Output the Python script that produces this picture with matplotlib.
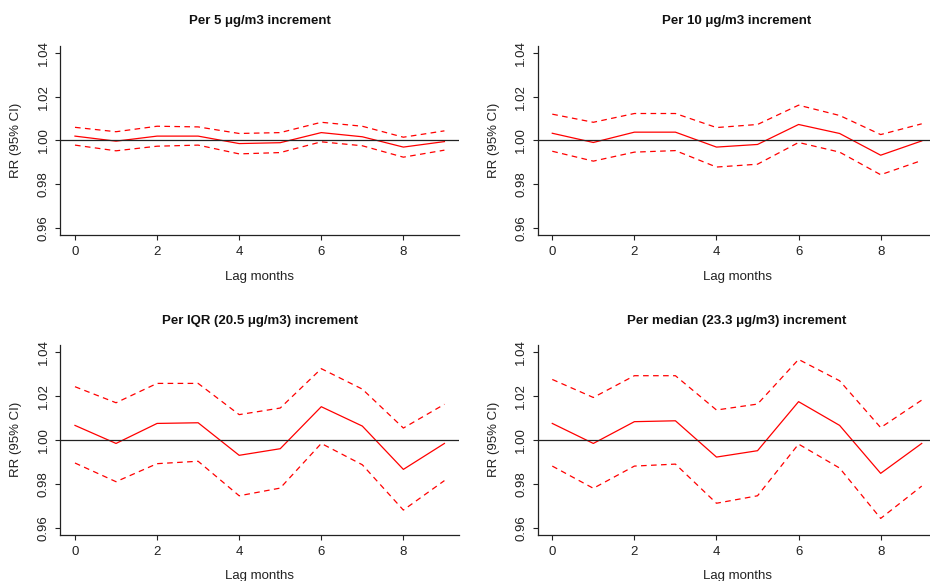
import numpy as np
import matplotlib
matplotlib.use("Agg")
import matplotlib.pyplot as plt

plt.rcParams['font.family'] = ['Liberation Sans', 'DejaVu Sans']

lags = np.arange(10)

# RR estimates with 95% CI for each exposure increment
rr_5 = [1.0020, 0.9997, 1.0020, 1.0020, 0.9986, 0.9990, 1.0036, 1.0017, 0.9970, 0.9995]
hi_5 = [1.0060, 1.0040, 1.0065, 1.0062, 1.0032, 1.0036, 1.0083, 1.0065, 1.0015, 1.0044]
lo_5 = [0.9979, 0.9953, 0.9974, 0.9979, 0.9939, 0.9945, 0.9994, 0.9976, 0.9924, 0.9956]

rr_10 = [1.0033, 0.9991, 1.0038, 1.0038, 0.9970, 0.9982, 1.0073, 1.0032, 0.9933, 0.9998]
hi_10 = [1.0120, 1.0083, 1.0123, 1.0123, 1.0059, 1.0073, 1.0161, 1.0114, 1.0027, 1.0076]
lo_10 = [0.9951, 0.9906, 0.9947, 0.9954, 0.9879, 0.9892, 0.9991, 0.9947, 0.9844, 0.9909]

rr_iqr = [1.0065, 0.9983, 1.0074, 1.0077, 0.9929, 0.9959, 1.0150, 1.0062, 0.9865, 0.9983]
hi_iqr = [1.0241, 1.0168, 1.0256, 1.0256, 1.0114, 1.0144, 1.0323, 1.0230, 1.0053, 1.0161]
lo_iqr = [0.9894, 0.9809, 0.9891, 0.9902, 0.9745, 0.9780, 0.9983, 0.9886, 0.9680, 0.9814]

rr_med = [1.0074, 0.9983, 1.0082, 1.0086, 0.9921, 0.9950, 1.0173, 1.0065, 0.9847, 0.9983]
hi_med = [1.0274, 1.0192, 1.0291, 1.0291, 1.0135, 1.0162, 1.0365, 1.0268, 1.0055, 1.0180]
lo_med = [0.9880, 0.9779, 0.9880, 0.9889, 0.9711, 0.9745, 0.9980, 0.9871, 0.9642, 0.9789]

titles = ["Per 5 \u03bcg/m3 increment",
          "Per 10 \u03bcg/m3 increment",
          "Per IQR (20.5 \u03bcg/m3) increment",
          "Per median (23.3 \u03bcg/m3) increment"]
panels = [(rr_5, lo_5, hi_5), (rr_10, lo_10, hi_10),
          (rr_iqr, lo_iqr, hi_iqr), (rr_med, lo_med, hi_med)]

W, H = 930, 581
fig = plt.figure(figsize=(W / 100, H / 100), dpi=100)
fig.patch.set_facecolor('white')

# plot regions in pixels: left, top, width, height
boxes = [(60.2, 45.7, 399, 189.6), (537.5, 45.7, 399, 189.6),
         (60.2, 344.7, 399, 190.0), (537.5, 344.7, 399, 190.0)]
# pixel positions of title centre (y), x-label centre (y), y-label centre (x)
title_y = [21, 21, 321, 321]
xlab_y = [276.7, 276.7, 576, 576]
ylab_x = [15.7, 494, 15.7, 494]

for i, ((l, t, w, h), title, (rr, lo, hi)) in enumerate(zip(boxes, titles, panels)):
    ax = fig.add_axes([l / W, 1 - (t + h) / H, w / W, h / H])
    ax.plot(lags, rr, color='#ff0000', lw=0.9, zorder=2)
    ax.plot(lags, lo, color='#ff0000', lw=0.9, ls=(0, (4.5, 3.5)), zorder=2)
    ax.plot(lags, hi, color='#ff0000', lw=0.9, ls=(0, (4.5, 3.5)), zorder=2)
    ax.axhline(1.0, color='#222222', lw=0.9, zorder=3)

    ax.set_xlim(-0.36, 9.36)
    ax.set_ylim(0.9568, 1.0432)
    ax.set_xticks([0, 2, 4, 6, 8])
    ax.set_yticks([0.96, 0.98, 1.00, 1.02, 1.04])
    ax.set_yticklabels(["0.96", "0.98", "1.00", "1.02", "1.04"])

    for side in ('top', 'right'):
        ax.spines[side].set_visible(False)
    for side in ('left', 'bottom'):
        ax.spines[side].set_color('#222222')
        ax.spines[side].set_linewidth(0.9)

    ax.tick_params(direction='out', length=3.5, width=0.8, color='#222222',
                   labelsize=9.5, labelcolor='#222222', pad=4.5)
    ax.tick_params(axis='y', labelrotation=90, pad=4)
    for lab in ax.get_yticklabels():
        lab.set_va('center')

    ax.set_xlabel("Lag months", fontsize=9.5, color='#222222')
    ax.set_ylabel("RR (95% CI)", fontsize=9.5, color='#222222')
    ax.xaxis.set_label_coords(0.5, -(xlab_y[i] - (t + h)) / h)
    ax.xaxis.label.set_va('center')
    ax.yaxis.set_label_coords((ylab_x[i] - l) / w, 0.5)
    ax.yaxis.label.set_va('center')
    ax.text(0.5, 1 + (t - title_y[i]) / h, title,
            transform=ax.transAxes, ha='center', va='center',
            fontsize=9.5, fontweight='bold', color='#111111')

fig.savefig("out.png", dpi=100)
